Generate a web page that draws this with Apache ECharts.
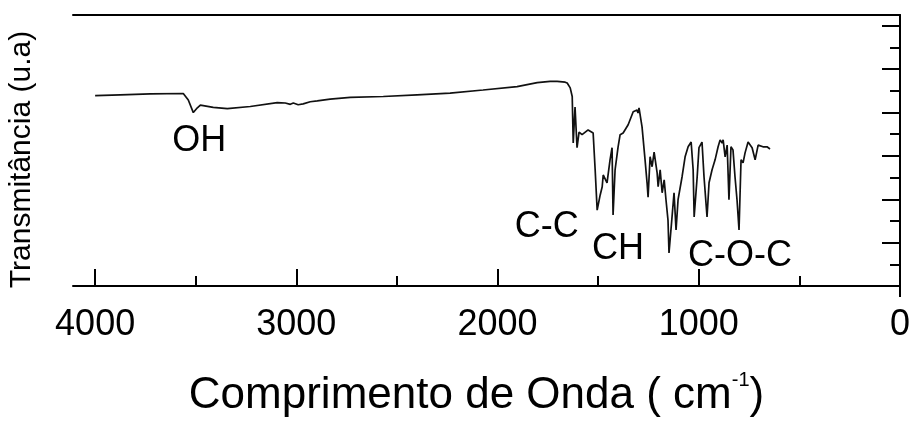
<!DOCTYPE html>
<html>
<head>
<meta charset="utf-8">
<script src="https://cdn.jsdelivr.net/npm/echarts@6/dist/echarts.min.js"></script>
<style>
  html, body { margin: 0; padding: 0; background: #fff; }
  #chart { width: 909px; height: 421px; }
</style>
</head>
<body>
<div id="chart"></div>
<script>
// FTIR spectrum: wavenumber (cm-1) and transmittance (arbitrary units)
const wavenumber = [
  4000, 3875, 3726, 3562, 3537, 3512, 3492, 3477, 3413, 3343, 3229, 3095, 3055, 3030,
  3015, 2991, 2966, 2931, 2896, 2832, 2732, 2568, 2400, 2236, 2072, 1903, 1803, 1739,
  1704, 1664, 1654, 1639, 1629, 1624, 1615, 1605, 1595, 1580, 1550, 1525, 1515, 1505,
  1490, 1480, 1475, 1456, 1441, 1431, 1426, 1416, 1401, 1391, 1376, 1351, 1326, 1307,
  1302, 1297, 1282, 1267, 1257, 1252, 1242, 1232, 1222, 1207, 1202, 1192, 1182, 1172,
  1163, 1153, 1148, 1133, 1123, 1113, 1103, 1083, 1068, 1053, 1038, 1028, 1023, 1008,
  999, 984, 974, 959, 949, 934, 919, 904, 894, 884, 879, 869, 859, 850,
  840, 830, 820, 810, 800, 790, 780, 770, 755, 735, 720, 705, 681, 661, 646
];
const transmittance = [
  4.39, 4.41, 4.43, 4.44, 4.29, 4.00, 4.11, 4.17, 4.12, 4.09, 4.14, 4.23, 4.22, 4.19,
  4.22, 4.18, 4.20, 4.25, 4.27, 4.31, 4.35, 4.37, 4.41, 4.45, 4.52, 4.60, 4.69, 4.72,
  4.72, 4.70, 4.68, 4.57, 4.37, 3.30, 4.13, 3.19, 3.55, 3.49, 3.60, 3.53, 2.68, 1.75,
  2.10, 2.29, 2.56, 2.38, 2.91, 3.19, 1.64, 2.68, 3.21, 3.49, 3.53, 3.72, 4.02, 4.06,
  3.99, 4.11, 3.67, 2.91, 2.38, 2.05, 2.98, 2.75, 3.09, 2.61, 2.29, 2.68, 2.15, 2.45,
  1.99, 1.52, 0.76, 1.59, 2.15, 1.29, 1.99, 2.52, 2.98, 3.21, 3.32, 2.68, 1.59, 2.52,
  3.19, 3.32, 2.52, 1.59, 2.38, 2.68, 2.91, 3.21, 3.37, 3.30, 3.37, 2.98, 3.25, 1.99,
  3.21, 3.14, 2.52, 1.99, 1.29, 2.91, 2.84, 3.07, 3.32, 3.19, 2.91, 3.25, 3.21, 3.21, 3.16
];

// Band assignments
const bandLabels = ['OH', 'C-C', 'CH', 'C-O-C'];
const bandX = [3483, 1755, 1401, 795];
const bandY = [3.35, 1.36, 0.85, 0.69];

// Axis ticks
const xMajorTicks = [0, 1000, 2000, 3000, 4000];
const xMinorTicks = [500, 1500, 2500, 3500];
const yMajorTicks = [0, 1, 2, 3, 4, 5, 6];
const yMinorTicks = [0.5, 1.5, 2.5, 3.5, 4.5, 5.5];

const FONT = "'Liberation Sans', Arial, Helvetica, sans-serif";
const X_MAX = 4110;
const Y_MAX = 6.25;

const chart = echarts.init(document.getElementById('chart'), null, { renderer: 'canvas' });

const xBase = { type: 'value', inverse: true, min: 0, max: X_MAX, splitLine: { show: false } };
const yBase = { type: 'value', min: 0, max: Y_MAX, splitLine: { show: false } };
const black = { color: '#000', width: 2 };

chart.setOption({
  animation: false,
  backgroundColor: '#fff',
  grid: { left: 73, right: 9, top: 15, bottom: 135, containLabel: false, outerBoundsMode: 'none' },
  xAxis: [
    Object.assign({}, xBase, {
      position: 'bottom',
      axisLine: { onZero: false, lineStyle: black },
      axisTick: { inside: true, length: 17, lineStyle: black, customValues: xMajorTicks },
      axisLabel: {
        customValues: xMajorTicks, formatter: v => String(v),
        color: '#000', fontSize: 36, fontFamily: FONT, margin: 21
      },
      name: '{a|Comprimento de Onda ( cm}{s|-1}{a|)}',
      nameLocation: 'middle',
      nameGap: 82,
      nameTextStyle: {
        padding: [0, 20, 0, 0],
        rich: {
          a: { fontSize: 44, fontFamily: FONT, color: '#000', lineHeight: 50, verticalAlign: 'bottom' },
          s: { fontSize: 20, fontFamily: FONT, color: '#000', lineHeight: 50, verticalAlign: 'top', padding: [2, 0, 0, 0] }
        }
      }
    }),
    Object.assign({}, xBase, {
      position: 'bottom',
      axisLine: { show: false, onZero: false },
      axisTick: { inside: true, length: 10, lineStyle: black, customValues: xMinorTicks },
      axisLabel: { show: false }
    }),
    Object.assign({}, xBase, {
      position: 'top',
      axisLine: { onZero: false, lineStyle: black },
      axisTick: { show: false },
      axisLabel: { show: false }
    }),
    Object.assign({}, xBase, {
      position: 'bottom',
      axisLine: { show: false, onZero: false },
      axisTick: { inside: false, length: 11, lineStyle: black, customValues: [0] },
      axisLabel: { show: false }
    })
  ],
  yAxis: [
    Object.assign({}, yBase, {
      position: 'right',
      axisLine: { show: true, onZero: false, lineStyle: black },
      axisTick: { show: true, inside: true, length: 18, lineStyle: black, customValues: yMajorTicks },
      axisLabel: { show: false }
    }),
    Object.assign({}, yBase, {
      position: 'right',
      axisLine: { show: false, onZero: false },
      axisTick: { show: true, inside: true, length: 10, lineStyle: black, customValues: yMinorTicks },
      axisLabel: { show: false }
    }),
    Object.assign({}, yBase, {
      position: 'left',
      axisLine: { show: false, onZero: false },
      axisTick: { show: false },
      axisLabel: { show: false },
      name: 'Transmitância (u.a)',
      nameLocation: 'middle',
      nameGap: 36,
      nameTextStyle: { fontSize: 30, fontFamily: FONT, color: '#000', padding: [0, 18, 0, 0] }
    })
  ],
  series: [
    {
      type: 'line',
      xAxisIndex: 0,
      yAxisIndex: 0,
      data: wavenumber.map((w, i) => [w, transmittance[i]]),
      showSymbol: false,
      symbol: 'none',
      lineStyle: { color: '#111', width: 1.7 },
      z: 3
    },
    {
      type: 'scatter',
      xAxisIndex: 0,
      yAxisIndex: 0,
      symbolSize: 0,
      itemStyle: { opacity: 1 },
      data: bandLabels.map((t, i) => ({ value: [bandX[i], bandY[i]], name: t })),
      label: {
        show: true,
        position: 'inside',
        formatter: p => p.name,
        color: '#000',
        fontSize: 36,
        fontFamily: FONT
      },
      z: 2
    }
  ]
});
</script>
</body>
</html>
